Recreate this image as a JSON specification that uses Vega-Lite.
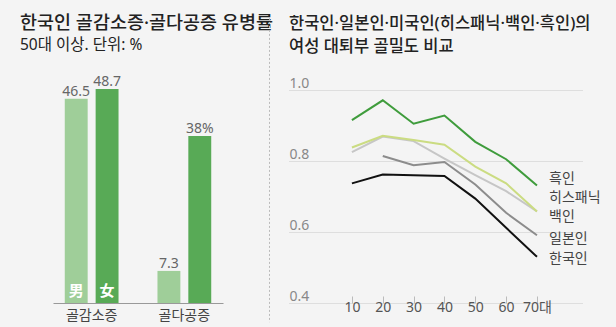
{
  "$schema": "https://vega.github.io/schema/vega-lite/v6.json",
  "background": "#f4f4f4",
  "padding": {"left": 20, "top": 14, "right": 19, "bottom": 10},
  "bounds": "flush",
  "spacing": 10,
  "resolve": {"scale": {"color": "independent"}},
  "config": {
    "font": "'Noto Sans', 'Noto Sans CJK KR'",
    "view": {"stroke": null}
  },
  "hconcat": [
    {
      "width": 170,
      "height": 213,
      "title": {
        "text": "한국인 골감소증·골다공증 유병률",
        "subtitle": "50대 이상. 단위: %",
        "anchor": "start",
        "dx": -33,
        "fontSize": 18.5,
        "fontWeight": 500,
        "color": "#222",
        "subtitleFontSize": 15.5,
        "subtitleColor": "#222",
        "subtitlePadding": 5,
        "offset": 22
      },
      "data": {
        "values": [
          {"category": "골감소증", "sex": "男", "value": 46.5, "label": "46.5"},
          {"category": "골감소증", "sex": "女", "value": 48.7, "label": "48.7"},
          {"category": "골다공증", "sex": "男", "value": 7.3, "label": "7.3"},
          {"category": "골다공증", "sex": "女", "value": 38, "label": "38%"}
        ]
      },
      "encoding": {
        "x": {
          "field": "category",
          "type": "nominal",
          "sort": ["골감소증", "골다공증"],
          "scale": {"paddingInner": 0.42, "paddingOuter": 0.127},
          "axis": {
            "title": null,
            "labelAngle": 0,
            "ticks": false,
            "labelFontSize": 14,
            "labelColor": "#444",
            "labelPadding": 5,
            "domainColor": "#999"
          }
        },
        "xOffset": {"field": "sex", "sort": ["男", "女"], "scale": {"paddingInner": 0.258}},
        "y": {
          "field": "value",
          "type": "quantitative",
          "scale": {"domain": [0, 48.5], "nice": false},
          "axis": null
        }
      },
      "layer": [
        {
          "mark": {"type": "bar"},
          "encoding": {
            "color": {
              "field": "sex",
              "type": "nominal",
              "scale": {"domain": ["男", "女"], "range": ["#9fce99", "#58aa56"]},
              "legend": null
            }
          }
        },
        {
          "mark": {"type": "text", "baseline": "alphabetic", "dy": -3, "fontSize": 14, "color": "#666"},
          "encoding": {"text": {"field": "label"}}
        },
        {
          "transform": [{"filter": "datum.category === '골감소증'"}],
          "mark": {"type": "text", "baseline": "middle", "fontSize": 15, "fontWeight": "bold", "color": "white", "dy": -12},
          "encoding": {"y": {"datum": 0}, "text": {"field": "sex"}}
        }
      ]
    },
    {
      "width": 46,
      "height": 213,
      "data": {"values": [{"x": 36.5, "y": 1.203, "y2": 0.346}]},
      "mark": {"type": "rule", "color": "#bbb", "strokeDash": [2, 2], "strokeWidth": 1},
      "encoding": {
        "x": {"field": "x", "type": "quantitative", "scale": {"domain": [0, 46], "nice": false, "zero": false}, "axis": null},
        "y": {"field": "y", "type": "quantitative", "scale": {"domain": [0.4, 1.0], "nice": false, "zero": false}, "axis": null},
        "y2": {"field": "y2"}
      }
    },
    {
      "width": 293,
      "height": 213,
      "title": {
        "text": ["한국인·일본인·미국인(히스패닉·백인·흑인)의", "여성 대퇴부 골밀도 비교"],
        "anchor": "start",
        "fontSize": 16.5,
        "fontWeight": 500,
        "color": "#222",
        "lineHeight": 23,
        "offset": 21
      },
      "layer": [
        {
          "data": {
            "values": [
              {"group": "백인", "age": 10, "value": 0.825},
              {"group": "백인", "age": 20, "value": 0.869},
              {"group": "백인", "age": 30, "value": 0.856},
              {"group": "백인", "age": 40, "value": 0.807},
              {"group": "백인", "age": 50, "value": 0.760},
              {"group": "백인", "age": 60, "value": 0.715},
              {"group": "백인", "age": 70, "value": 0.658},
              {"group": "히스패닉", "age": 10, "value": 0.838},
              {"group": "히스패닉", "age": 20, "value": 0.871},
              {"group": "히스패닉", "age": 30, "value": 0.859},
              {"group": "히스패닉", "age": 40, "value": 0.846},
              {"group": "히스패닉", "age": 50, "value": 0.784},
              {"group": "히스패닉", "age": 60, "value": 0.737},
              {"group": "히스패닉", "age": 70, "value": 0.658},
              {"group": "일본인", "age": 20, "value": 0.814},
              {"group": "일본인", "age": 30, "value": 0.788},
              {"group": "일본인", "age": 40, "value": 0.797},
              {"group": "일본인", "age": 50, "value": 0.734},
              {"group": "일본인", "age": 60, "value": 0.654},
              {"group": "일본인", "age": 70, "value": 0.591},
              {"group": "한국인", "age": 10, "value": 0.737},
              {"group": "한국인", "age": 20, "value": 0.762},
              {"group": "한국인", "age": 30, "value": 0.760},
              {"group": "한국인", "age": 40, "value": 0.758},
              {"group": "한국인", "age": 50, "value": 0.694},
              {"group": "한국인", "age": 60, "value": 0.612},
              {"group": "한국인", "age": 70, "value": 0.530},
              {"group": "흑인", "age": 10, "value": 0.915},
              {"group": "흑인", "age": 20, "value": 0.971},
              {"group": "흑인", "age": 30, "value": 0.905},
              {"group": "흑인", "age": 40, "value": 0.928},
              {"group": "흑인", "age": 50, "value": 0.854},
              {"group": "흑인", "age": 60, "value": 0.805},
              {"group": "흑인", "age": 70, "value": 0.731}
            ]
          },
          "mark": {"type": "line", "strokeWidth": 2},
          "encoding": {
            "x": {
              "field": "age",
              "type": "quantitative",
              "scale": {"domain": [-10.4, 84.6], "nice": false, "zero": false},
              "axis": {
                "title": null,
                "values": [10, 20, 30, 40, 50, 60, 70],
                "labelExpr": "datum.value == 70 ? '70대' : datum.label",
                "grid": false,
                "domain": false,
                "tickSize": -7,
                "tickColor": "#bbb",
                "labelFontSize": 14,
                "labelColor": "#555",
                "labelPadding": 4
              }
            },
            "y": {
              "field": "value",
              "type": "quantitative",
              "scale": {"domain": [0.4, 1.0], "nice": false, "zero": false},
              "axis": {
                "title": null,
                "values": [0.4, 0.6, 0.8, 1.0],
                "format": ".1f",
                "domain": false,
                "ticks": false,
                "grid": true,
                "gridColor": "#c8c8c8",
                "gridDash": [1, 1],
                "labelAlign": "left",
                "labelBaseline": "alphabetic",
                "labelPadding": 0,
                "labelOffset": -3,
                "labelFontSize": 14,
                "labelColor": "#888"
              }
            },
            "color": {
              "field": "group",
              "type": "nominal",
              "scale": {
                "domain": ["백인", "히스패닉", "일본인", "한국인", "흑인"],
                "range": ["#c6c6c6", "#cbdc82", "#8c8c8c", "#111111", "#3f9c3c"]
              },
              "legend": null
            }
          }
        },
        {
          "data": {
            "values": [
              {"name": "흑인", "age": 73.9, "value": 0.748},
              {"name": "히스패닉", "age": 73.9, "value": 0.695},
              {"name": "백인", "age": 73.9, "value": 0.643},
              {"name": "일본인", "age": 73.9, "value": 0.579},
              {"name": "한국인", "age": 73.9, "value": 0.525}
            ]
          },
          "mark": {"type": "text", "align": "left", "baseline": "middle", "fontSize": 14, "color": "#444"},
          "encoding": {
            "x": {"field": "age", "type": "quantitative"},
            "y": {"field": "value", "type": "quantitative"},
            "text": {"field": "name"}
          }
        }
      ]
    }
  ]
}
